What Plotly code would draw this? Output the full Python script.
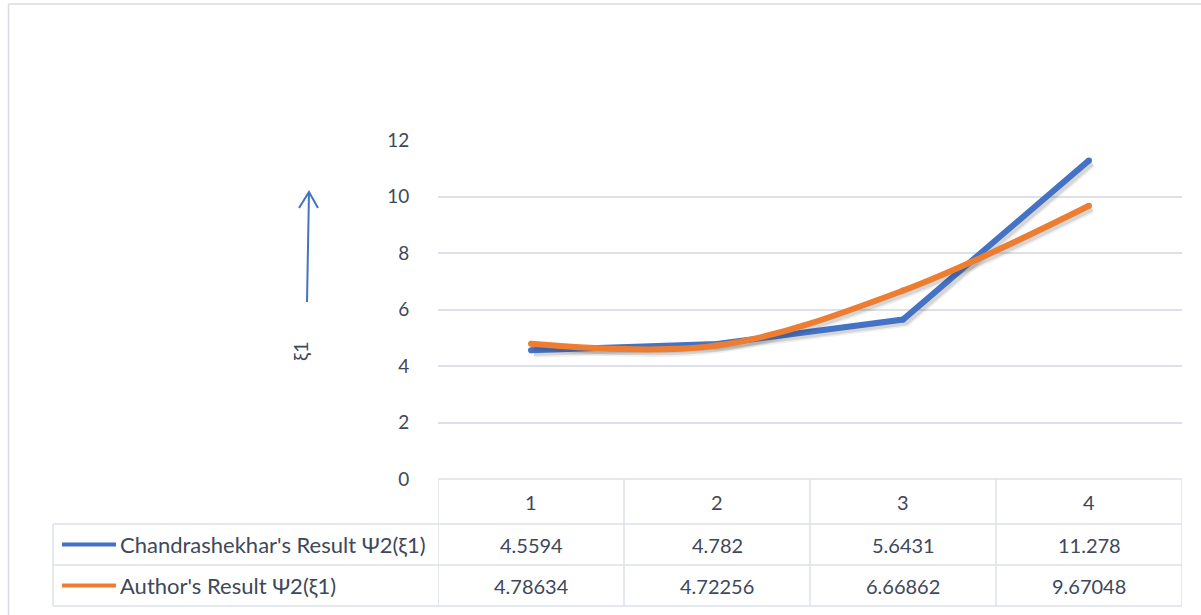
import plotly.graph_objects as go

# ---- data ----
categories = [1, 2, 3, 4]
series_names = ["Chandrashekhar's Result Ψ2(ξ1)", "Author's Result Ψ2(ξ1)"]
chandrashekhar = [4.5594, 4.782, 5.6431, 11.278]
author = [4.78634, 4.72256, 6.66862, 9.67048]
value_labels = [
    ["4.5594", "4.782", "5.6431", "11.278"],
    ["4.78634", "4.72256", "6.66862", "9.67048"],
]
y_ticks = [0, 2, 4, 6, 8, 10, 12]

# ---- styling ----
W, H = 1201, 615
FONT = "Lato"
TXT = "#3E4859"
GRID = "#DDE1E7"
BLUE = "#4472C4"
ORANGE = "#ED7D31"


def px(x):
    return x / W


def py(y):
    return 1 - y / H


plot_l, plot_r = 438, 1182
plot_t, plot_b = 140, 479
x_range = [0.5, 4.5]
y_range = [0, 12]

# drop-shadow offset: 3 px right and 3 px down, expressed in axis units
shadow_dx = 3 * (x_range[1] - x_range[0]) / (plot_r - plot_l)
shadow_dy = 3 * (y_range[1] - y_range[0]) / (plot_b - plot_t)

fig = go.Figure()

series = [
    (chandrashekhar, BLUE, "linear"),
    (author, ORANGE, "spline"),
]

for (vals, col, shape), name in zip(series, series_names):
    sx = [c + shadow_dx for c in categories]
    sy = [v - shadow_dy for v in vals]
    for w, a in [(9, 0.07), (5.5, 0.13)]:
        fig.add_trace(go.Scatter(
            x=sx, y=sy, mode="lines",
            line=dict(color=f"rgba(40,40,40,{a})", width=w, shape=shape, smoothing=1),
            showlegend=False, hoverinfo="skip",
        ))
    fig.add_trace(go.Scatter(
        x=categories, y=vals, mode="lines+markers", name=name,
        line=dict(color=col, width=6, shape=shape, smoothing=1),
        marker=dict(color=col, size=6, line=dict(width=0)),
        showlegend=False,
    ))

shapes = []

# outer chart border (left and top edges)
border = dict(color="#D9DDE3", width=1.5)
shapes.append(dict(type="line", xref="paper", yref="paper",
                   x0=px(8.5), x1=px(8.5), y0=py(4), y1=0, line=border, layer="below"))
shapes.append(dict(type="line", xref="paper", yref="paper",
                   x0=px(8.5), x1=1, y0=py(4), y1=py(4), line=border, layer="below"))

# ---- data table under the plot ----
tline = dict(color=GRID, width=1.5)
row_edges = [479, 524, 565, 606]
left_edge = 53
# horizontal rules
shapes.append(dict(type="line", xref="x", yref="paper", x0=x_range[0], x1=x_range[1],
                   y0=py(row_edges[0]), y1=py(row_edges[0]), line=tline))
for ry in row_edges[1:]:
    shapes.append(dict(type="line", xref="paper", yref="paper",
                       x0=px(left_edge), x1=px(plot_r), y0=py(ry), y1=py(ry), line=tline))
# vertical rules at category boundaries
for b in [c - 0.5 for c in categories] + [categories[-1] + 0.5]:
    shapes.append(dict(type="line", xref="x", yref="paper", x0=b, x1=b,
                       y0=py(row_edges[0]), y1=py(row_edges[-1]), line=tline))
shapes.append(dict(type="line", xref="paper", yref="paper", x0=px(left_edge), x1=px(left_edge),
                   y0=py(row_edges[1]), y1=py(row_edges[-1]), line=tline))

annotations = []
# header row: category labels
for c in categories:
    annotations.append(dict(x=c, y=py((row_edges[0] + row_edges[1]) / 2), xref="x", yref="paper",
                            text=str(c), showarrow=False, xanchor="center", yanchor="middle",
                            font=dict(family=FONT, size=20, color=TXT)))
# value rows with legend keys
for r, (name, (vals, col, _)) in enumerate(zip(series_names, series)):
    yc = (row_edges[r + 1] + row_edges[r + 2]) / 2
    shapes.append(dict(type="line", xref="paper", yref="paper",
                       x0=px(62), x1=px(116), y0=py(yc), y1=py(yc),
                       line=dict(color=col, width=4)))
    annotations.append(dict(x=px(118), y=py(yc), xref="paper", yref="paper",
                            text=name, showarrow=False, xanchor="left", yanchor="middle",
                            font=dict(family=FONT, size=22, color=TXT)))
    for c, lab in zip(categories, value_labels[r]):
        annotations.append(dict(x=c, y=py(yc), xref="x", yref="paper",
                                text=lab, showarrow=False, xanchor="center", yanchor="middle",
                                font=dict(family=FONT, size=20, color=TXT)))

# y-axis label with upward arrow
annotations.append(dict(x=px(300), y=py(352), xref="paper", yref="paper", text="ξ1",
                        showarrow=False, textangle=-90, xanchor="center", yanchor="middle",
                        font=dict(family=FONT, size=20, color=TXT)))
arrow = dict(color=BLUE, width=2)
shapes.append(dict(type="line", xref="paper", yref="paper",
                   x0=px(307), y0=py(302), x1=px(309), y1=py(192), line=arrow))
shapes.append(dict(type="path", xref="paper", yref="paper",
                   path=f"M {px(299)} {py(208)} L {px(309)} {py(192)} L {px(318)} {py(208)}",
                   line=arrow))

fig.update_layout(
    width=W, height=H,
    margin=dict(l=0, r=0, t=0, b=0, pad=0, autoexpand=False),
    paper_bgcolor="white", plot_bgcolor="rgba(0,0,0,0)",
    showlegend=False,
    xaxis=dict(domain=[px(plot_l), px(plot_r)], range=x_range, showgrid=False,
               zeroline=False, showticklabels=False, showline=False, fixedrange=True),
    yaxis=dict(domain=[py(plot_b), py(plot_t)], range=y_range, tickvals=y_ticks,
               showgrid=True, gridcolor=GRID, gridwidth=1.5, zeroline=False,
               ticks="outside", ticklen=24, tickcolor="rgba(0,0,0,0)",
               tickfont=dict(family=FONT, size=19, color=TXT), fixedrange=True),
    shapes=shapes,
    annotations=annotations,
)

fig.write_html("out.html")
